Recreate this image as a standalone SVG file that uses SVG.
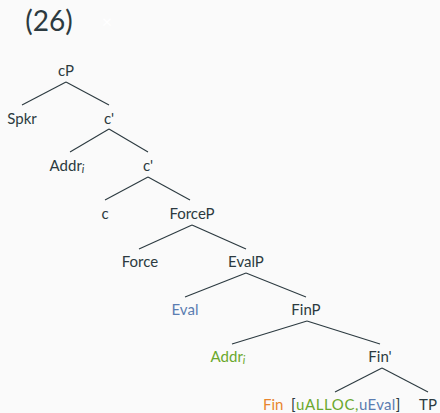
<svg xmlns="http://www.w3.org/2000/svg" width="440" height="413" viewBox="0 0 440 413">
<style>
text{font-family:Lato,"Open Sans","Liberation Sans",sans-serif;font-size:15px;fill:#2c3a40;text-anchor:middle}
.e{fill:#5b7db1}
.g{fill:#6aa82c}
.o{fill:#e8852e}
.sub{font-style:italic;font-size:11px}
.st{text-anchor:start}
#connectors line{stroke:#2c3a40;stroke-width:1.1}
</style>
<rect width="440" height="413" fill="#fafafa"/>
<text x="49" y="31" style="font-size:28px">(26)</text>
<text x="107" y="28" style="font-size:18px;fill:#ffffff">×</text>
<g id="connectors">
<line x1="66" y1="82" x2="22" y2="105"/>
<line x1="66" y1="82" x2="109" y2="105"/>
<line x1="109" y1="129" x2="70" y2="152"/>
<line x1="109" y1="129" x2="148" y2="152"/>
<line x1="148" y1="177" x2="105" y2="200"/>
<line x1="148" y1="177" x2="190" y2="200"/>
<line x1="192" y1="225" x2="139" y2="249"/>
<line x1="192" y1="225" x2="246" y2="249"/>
<line x1="246" y1="273" x2="185" y2="297"/>
<line x1="246" y1="273" x2="306" y2="297"/>
<line x1="307" y1="321" x2="232" y2="344"/>
<line x1="307" y1="321" x2="380" y2="344"/>
<line x1="382" y1="368" x2="335" y2="392"/>
<line x1="382" y1="368" x2="428" y2="392"/>
</g>
<g id="n-cP"><text x="66" y="76">cP</text></g>
<g id="n-spkr"><text x="22" y="123.7">Spkr</text></g>
<g id="n-cbar1"><text x="109" y="123.7">c'</text></g>
<g id="n-addr1"><text x="67" y="171.4">Addr<tspan class="sub" dy="2">i</tspan></text></g>
<g id="n-cbar2"><text x="148" y="171.4">c'</text></g>
<g id="n-c"><text x="105" y="219">c</text></g>
<g id="n-forceP"><text x="192" y="219">ForceP</text></g>
<g id="n-force"><text x="140" y="267">Force</text></g>
<g id="n-evalP"><text x="246" y="267">EvalP</text></g>
<g id="n-eval"><text x="185" y="314.6" class="e">Eval</text></g>
<g id="n-finP"><text x="306" y="314.6">FinP</text></g>
<g id="n-addr2"><text x="228" y="362.3" class="g">Addr<tspan class="sub" dy="2">i</tspan></text></g>
<g id="n-finbar"><text x="380" y="362.3">Fin'</text></g>
<g id="n-fin"><text class="st" y="410"><tspan class="o" x="263">Fin</tspan><tspan x="291">[</tspan><tspan class="g" x="296" letter-spacing="0.6">uALLOC,</tspan><tspan class="e" letter-spacing="0.3">uEval</tspan><tspan>]</tspan></text></g>
<g id="n-TP"><text x="428" y="410">TP</text></g>
</svg>
